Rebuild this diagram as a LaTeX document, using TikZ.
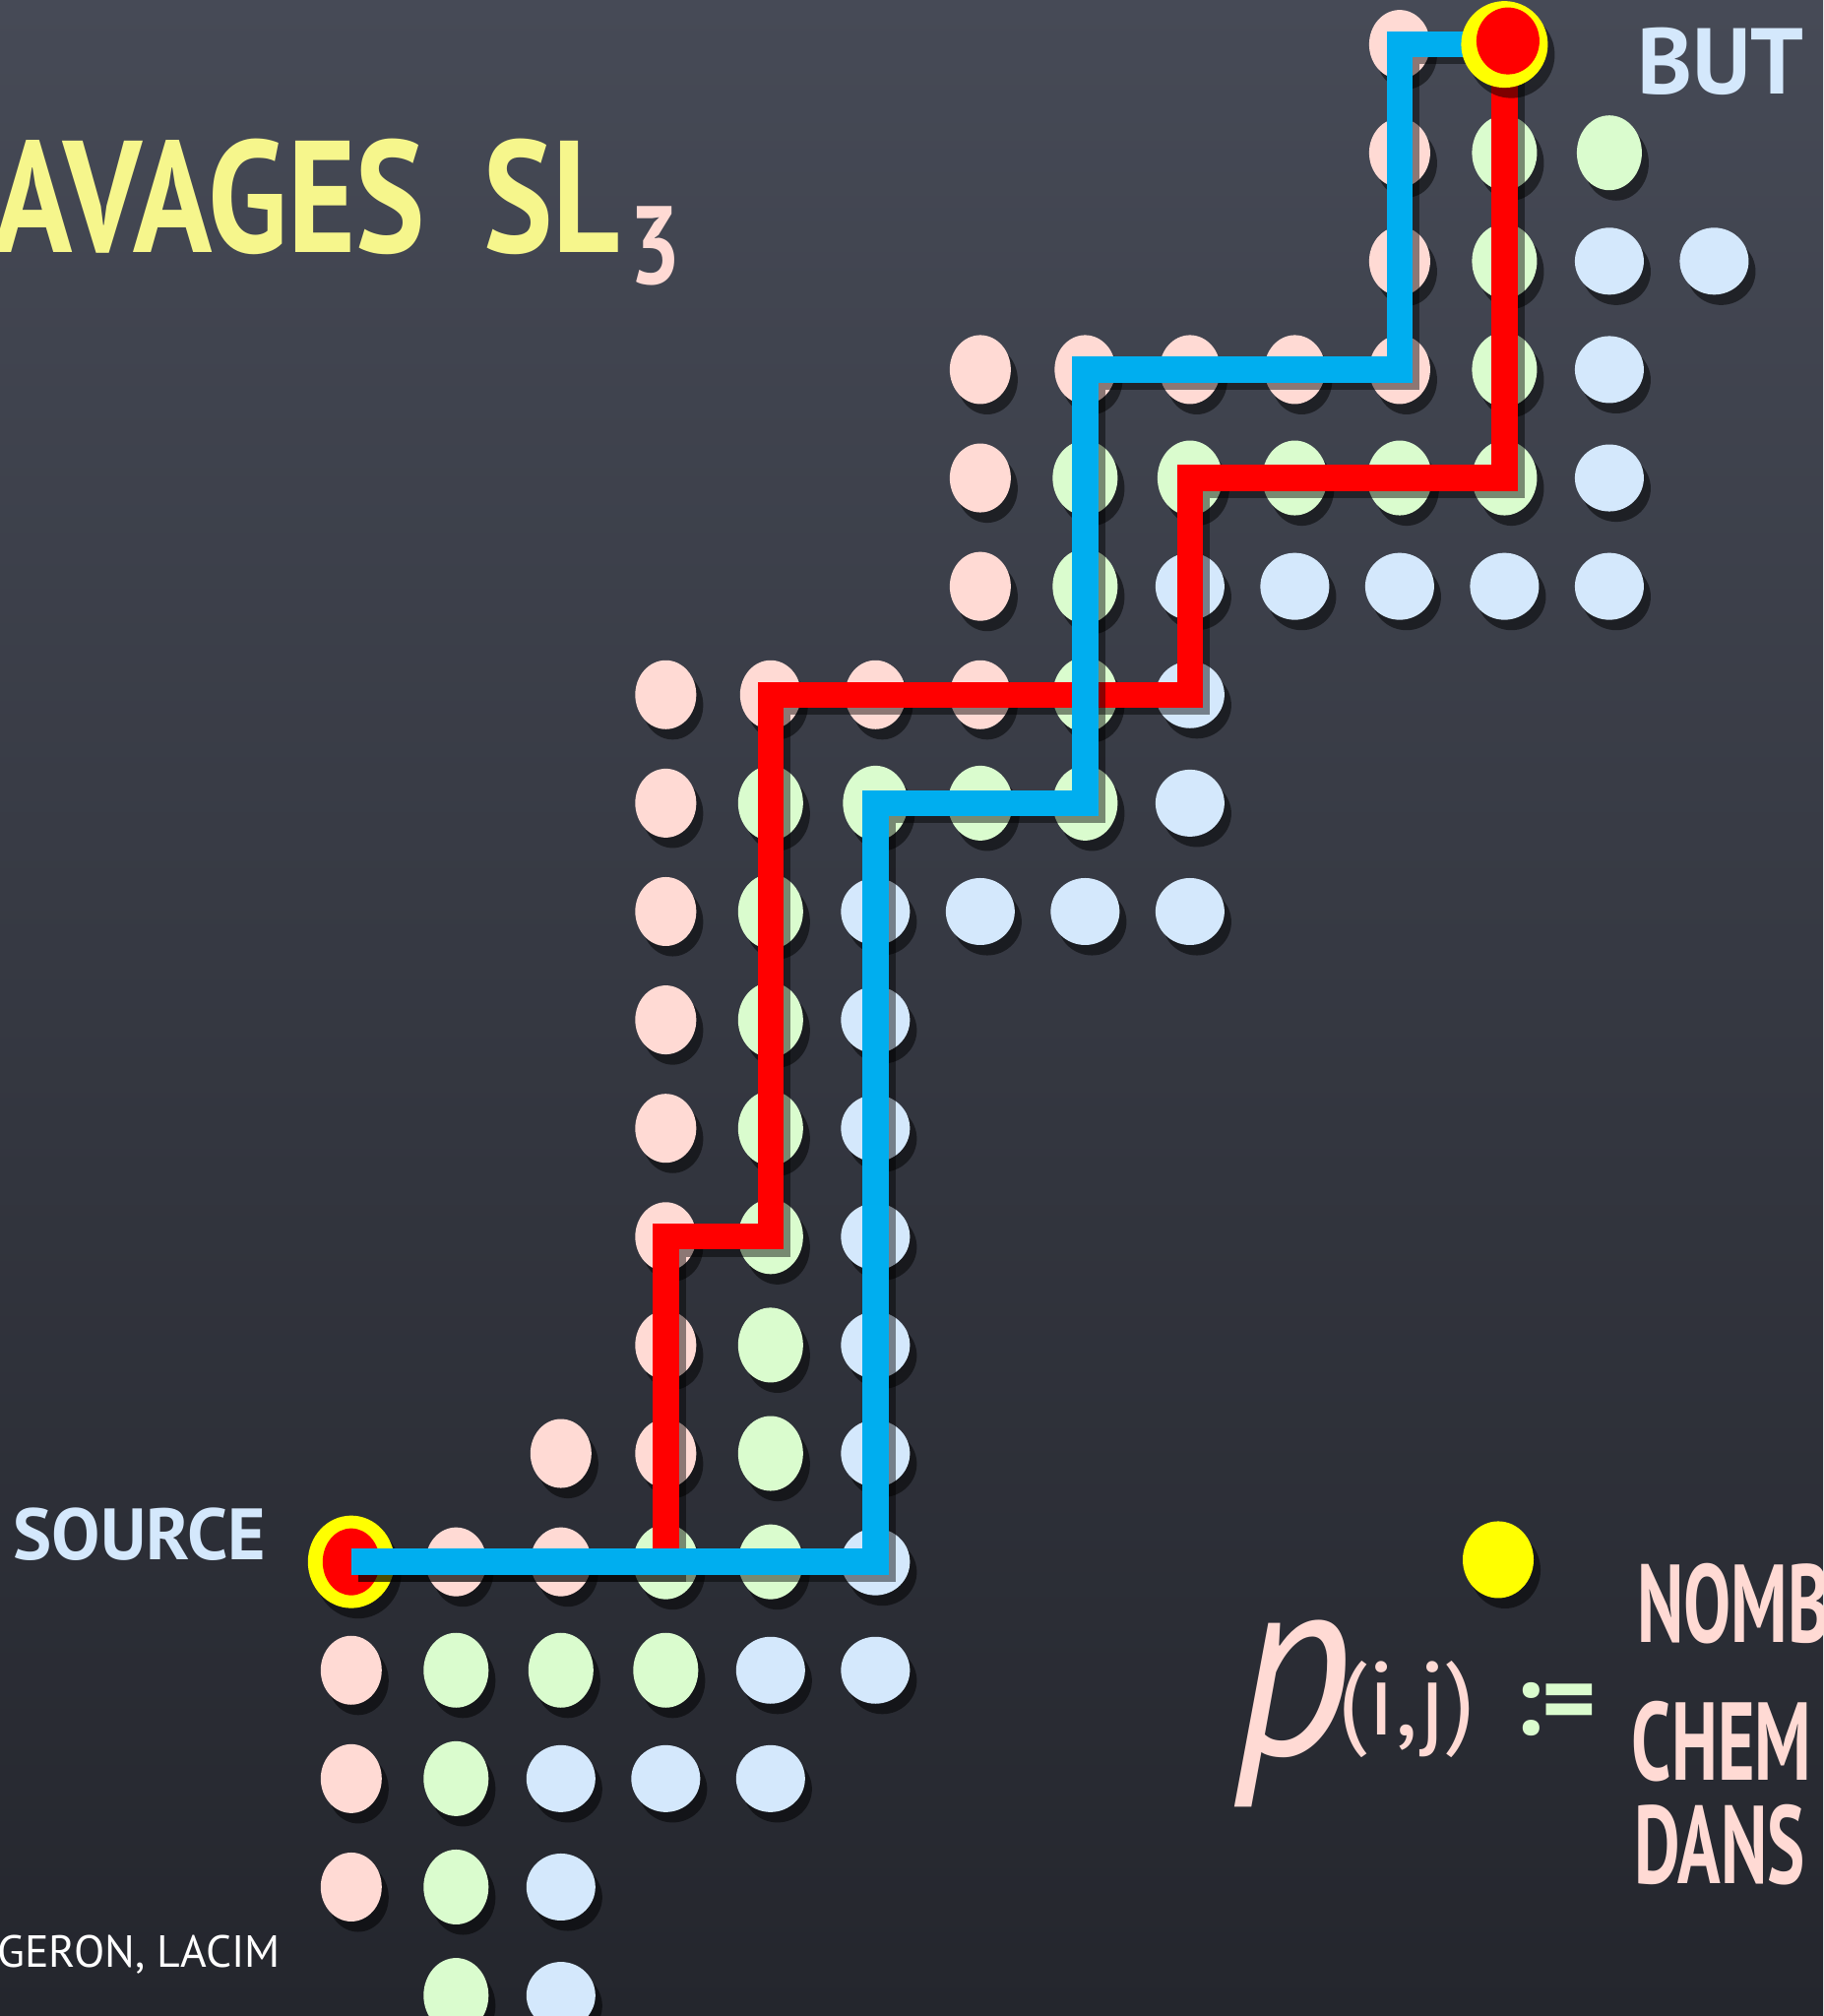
\documentclass[tikz,border=0pt]{standalone}
\usepackage{fontspec}
\setmainfont{PT Sans}
\newfontfamily\titlechalk{PT Sans}[FakeStretch=0.82]
\newfontfamily\narrowchalk{PT Sans}[FakeStretch=0.64]
\usepackage{tkz-euclide}
\usetikzlibrary{calc}
\definecolor{BoardTopClr}{RGB}{70,74,86}
\definecolor{BoardMidClr}{RGB}{57,60,71}
\definecolor{BoardBottomClr}{RGB}{36,38,45}
\definecolor{DotPinkClr}{RGB}{255,218,212}
\definecolor{DotGreenClr}{RGB}{218,252,206}
\definecolor{DotBlueClr}{RGB}{212,232,252}
\definecolor{PathRedClr}{RGB}{255,0,0}
\definecolor{PathBlueClr}{RGB}{0,174,239}
\definecolor{ChalkYellowClr}{RGB}{246,246,140}
\definecolor{MarkYellowClr}{RGB}{255,255,0}

\tikzset{
  pinkdot/.style={fill=DotPinkClr,x radius=.31cm,y radius=.35cm},
  greendot/.style={fill=DotGreenClr,x radius=.33cm,y radius=.38cm},
  bluedot/.style={fill=DotBlueClr,x radius=.35cm,y radius=.34cm},
  dotshade/.style={fill=black,fill opacity=.5},
  pathline/.style={line width=7.5pt},
  pathshade/.style={line width=7.5pt,draw=black,draw opacity=.45,
    transform canvas={xshift=2pt,yshift=-2pt}},
  chalk/.style={inner sep=0pt,anchor=west},
}

\begin{document}
\begin{tikzpicture}[x=1.065cm,y=1.101cm]
\useasboundingbox (-3.35,-4.19) rectangle (14.04,14.41);
\shade[top color=BoardTopClr,middle color=BoardMidClr,bottom color=BoardBottomClr]
  (-3.35,-4.19) rectangle (14.04,14.41);

\tkzDefPoints{0/0/S,11/14/T}
\tkzDefPoints{5/0/b1,5/7/b2,7/7/b3,7/11/b4,10/11/b5,10/14/b6}
\tkzDefPoints{3/0/r1,3/3/r2,4/3/r3,4/8/r4,8/8/r5,8/10/r6,11/10/r7}

% chalk dots
\foreach \x/\y in {10/14,10/13,10/12,6/11,7/11,8/11,9/11,10/11,6/10,6/9,
  3/8,4/8,5/8,6/8,3/7,3/6,3/5,3/4,3/3,3/2,3/1,2/1,1/0,2/0,0/-1,0/-2,0/-3}{
  \fill[pinkdot,dotshade] (\x,\y) ++(2pt,-3pt) circle;
  \fill[pinkdot] (\x,\y) circle;}
\foreach \x/\y in {11/13,12/13,11/12,11/11,7/10,8/10,9/10,10/10,11/10,7/9,7/8,
  4/7,5/7,6/7,7/7,4/6,4/5,4/4,4/3,4/2,4/1,3/0,4/0,1/-1,2/-1,3/-1,1/-2,1/-3,1/-4}{
  \fill[greendot,dotshade] (\x,\y) ++(2pt,-3pt) circle;
  \fill[greendot] (\x,\y) circle;}
\foreach \x/\y in {12/12,13/12,12/11,12/10,8/9,9/9,10/9,11/9,12/9,8/8,8/7,
  5/6,6/6,7/6,8/6,5/5,5/4,5/3,5/2,5/1,5/0,4/-1,5/-1,2/-2,3/-2,4/-2,2/-3,2/-4}{
  \fill[bluedot,dotshade] (\x,\y) ++(2pt,-3pt) circle;
  \fill[bluedot] (\x,\y) circle;}

% source
\fill[dotshade] (S) ++(2pt,-3pt) circle [x radius=.44cm,y radius=.47cm];
\fill[MarkYellowClr] (S) circle [x radius=.44cm,y radius=.47cm];
\fill[PathRedClr] (S) circle [x radius=.29cm,y radius=.34cm];

% the two paths
\draw[pathshade] (S) -- (r1) -- (r2) -- (r3) -- (r4) -- (r5) -- (r6) -- (r7) -- (T);
\draw[pathline,PathRedClr] (S) -- (r1) -- (r2) -- (r3) -- (r4) -- (r5) -- (r6) -- (r7) -- (T);
\draw[pathshade] (S) -- (b1) -- (b2) -- (b3) -- (b4) -- (b5) -- (b6) -- (T);
\draw[pathline,PathBlueClr] (S) -- (b1) -- (b2) -- (b3) -- (b4) -- (b5) -- (b6) -- (T);

% goal
\fill[dotshade] (T) ++(2pt,-3pt) circle [x radius=.44cm,y radius=.44cm];
\fill[MarkYellowClr] (T) circle [x radius=.44cm,y radius=.44cm];
\fill[PathRedClr] (T) ++(1pt,1pt) circle [x radius=.32cm,y radius=.34cm];

% legend dot
\fill[dotshade] (10.94,0.02) ++(2pt,-3pt) circle [x radius=.36cm,y radius=.39cm];
\fill[MarkYellowClr] (10.94,0.02) circle [x radius=.36cm,y radius=.39cm];

\node[chalk,anchor=base west,text=ChalkYellowClr,
  font=\titlechalk\bfseries\fontsize{46}{46}\selectfont] (title) at (-3.42,12.08)
  {AVAGES\hspace{.6cm}SL\hspace{.1cm}\raisebox{-9pt}{\textcolor{DotPinkClr}{\fontsize{32}{32}\selectfont 3}}};
\node[chalk,text=DotBlueClr,font=\bfseries\fontsize{27}{27}\selectfont] (but) at (12.26,13.84) {BUT};
\node[chalk,text=DotBlueClr,font=\bfseries\fontsize{21}{21}\selectfont] (source) at (-3.23,0.25) {SOURCE};
\node[chalk,text=white,font=\fontsize{13}{13}\selectfont] (credit) at (-3.38,-3.62) {GERON, LACIM};

\node[chalk,text=DotPinkClr] (pij) at (8.43,-1.40)
  {\scalebox{1}[1.15]{\fontsize{66}{66}\selectfont\itshape p}};
\node[chalk,text=DotPinkClr,font=\fontsize{30}{30}\selectfont] (args) at (9.41,-1.36) {(i,j)};
\node[chalk,text=DotGreenClr,font=\bfseries\fontsize{30}{30}\selectfont] (defeq) at (11.08,-1.36) {:=};
\node[chalk,text=DotPinkClr,font=\narrowchalk\bfseries\fontsize{32}{32}\selectfont] (nomb) at (12.26,-0.39) {NOMB};
\node[chalk,text=DotPinkClr,font=\narrowchalk\bfseries\fontsize{32}{32}\selectfont] (chem) at (12.21,-1.66) {CHEM};
\node[chalk,text=DotPinkClr,font=\narrowchalk\bfseries\fontsize{32}{32}\selectfont] (dans) at (12.23,-2.61) {DANS};

\end{tikzpicture}
\end{document}
